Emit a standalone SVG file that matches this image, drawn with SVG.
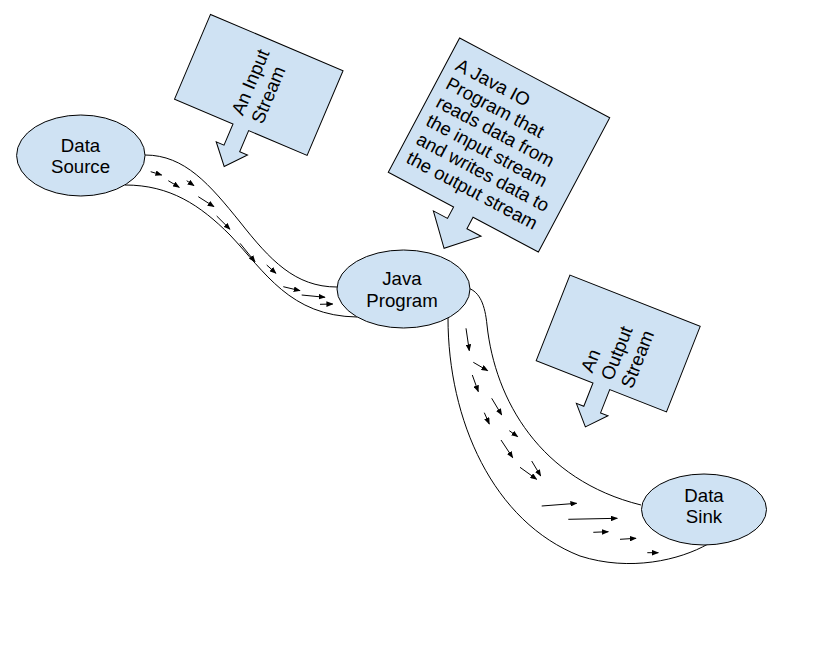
<svg xmlns="http://www.w3.org/2000/svg" width="819" height="648" viewBox="0 0 819 648">
  <defs>
    <style>
      .node { fill: #cfe2f3; stroke: #000; stroke-width: 1; }
      .stream { fill: none; stroke: #000; stroke-width: 1; }
      .flow { stroke: #000; stroke-width: 1; marker-end: url(#ah); }
      .label { font-family: "Liberation Sans", Arial, sans-serif; font-size: 18.67px; fill: #000; }
      .mid { text-anchor: middle; }
    </style>
    <marker id="ah" viewBox="0 0 10 8" refX="9" refY="4" markerWidth="7" markerHeight="5.6" orient="auto" markerUnits="userSpaceOnUse">
      <path d="M0,0 L10,4 L0,8 z" fill="#000"/>
    </marker>
  </defs>

  <rect width="819" height="648" fill="#fff"/>

  <!-- streams between the nodes, with the flowing data -->
  <g id="connectors">
    <g id="input-stream-pipe">
      <path class="stream" d="M145,155 C185,155 210,185 240,222 C270,260 295,287 337,287"/>
      <path class="stream" d="M125,185 C170,185 200,205 230,235 C265,272 290,316 357,317"/>
      <line class="flow" x1="150.7" y1="171.7" x2="161.7" y2="175"/>
      <line class="flow" x1="168.3" y1="180.7" x2="179.3" y2="187.3"/>
      <line class="flow" x1="186.7" y1="180.7" x2="194" y2="185.7"/>
      <line class="flow" x1="198.3" y1="196.7" x2="214" y2="206.7"/>
      <line class="flow" x1="216.7" y1="216" x2="230" y2="229.3"/>
      <line class="flow" x1="240" y1="243.3" x2="255" y2="261.7"/>
      <line class="flow" x1="266.7" y1="265" x2="276" y2="273.3"/>
      <line class="flow" x1="283.3" y1="286.7" x2="300" y2="290.7"/>
      <line class="flow" x1="301.7" y1="295" x2="325" y2="297.3"/>
      <line class="flow" x1="320" y1="304.3" x2="332.7" y2="304"/>
    </g>
    <g id="output-stream-pipe">
      <path class="stream" d="M468,288 C480,292 485,305 487,325 C495,400 540,480 641,505"/>
      <path class="stream" d="M448,318 C448,420 493,522 580,556 C630,572 680,560 708,544"/>
      <line class="flow" x1="466" y1="328.3" x2="469.3" y2="350.7"/>
      <line class="flow" x1="473.3" y1="362.3" x2="487.7" y2="370.7"/>
      <line class="flow" x1="472.3" y1="375" x2="478.3" y2="391.7"/>
      <line class="flow" x1="491.7" y1="398.3" x2="501.7" y2="415"/>
      <line class="flow" x1="484.3" y1="412.7" x2="489.3" y2="424"/>
      <line class="flow" x1="509.3" y1="430.7" x2="517.7" y2="436.7"/>
      <line class="flow" x1="501" y1="440" x2="512.7" y2="457.7"/>
      <line class="flow" x1="531.7" y1="461" x2="540.7" y2="476"/>
      <line class="flow" x1="520" y1="467.3" x2="536.7" y2="479.3"/>
      <line class="flow" x1="541.7" y1="506" x2="576.7" y2="503.3"/>
      <line class="flow" x1="568.3" y1="519.3" x2="617.3" y2="518.3"/>
      <line class="flow" x1="593.3" y1="532.3" x2="608.3" y2="531.7"/>
      <line class="flow" x1="620" y1="539.3" x2="636" y2="538.3"/>
      <line class="flow" x1="647.3" y1="552.7" x2="658.3" y2="552.7"/>
    </g>
  </g>

  <!-- end points -->
  <g id="data-source">
    <ellipse class="node" cx="80.8" cy="155.5" rx="64.2" ry="40.5"/>
    <text class="label mid" x="80.5" y="151.7">Data</text>
    <text class="label mid" x="80.5" y="173.3">Source</text>
  </g>

  <g id="java-program">
    <ellipse class="node" cx="403.5" cy="289" rx="66.5" ry="39"/>
    <text class="label mid" x="402" y="285">Java</text>
    <text class="label mid" x="402" y="306.5">Program</text>
  </g>

  <g id="data-sink">
    <ellipse class="node" cx="704" cy="509.5" rx="62.5" ry="35.5"/>
    <text class="label mid" x="704" y="501.7">Data</text>
    <text class="label mid" x="704" y="523.3">Sink</text>
  </g>

  <!-- arrow callouts -->
  <g id="input-stream-note" transform="translate(258.8,84.9) rotate(-67)">
    <path class="node" d="M-46,-72 H46 V72 H-46 V8.5 H-69 V17 L-88.6,0 L-69,-17 V-8.5 H-46 Z"/>
    <text class="label" x="-35.5" y="-2.5">An Input</text>
    <text class="label" x="-35.5" y="19">Stream</text>
  </g>

  <g id="java-io-note" transform="translate(499,145) rotate(28)">
    <path class="node" d="M-85,-76 H85 V76 H11 V89 H27 L0,117 L-27,89 H-11 V76 H-85 Z"/>
    <text class="label" x="-75" y="-46">A Java IO</text>
    <text class="label" x="-75" y="-25">Program that</text>
    <text class="label" x="-75" y="-4">reads data from</text>
    <text class="label" x="-75" y="17">the input stream</text>
    <text class="label" x="-75" y="38">and writes data to</text>
    <text class="label" x="-75" y="59">the output stream</text>
  </g>

  <g id="output-stream-note" transform="translate(618.2,343.5) rotate(-68.5)">
    <path class="node" d="M-46,-70 H46 V70 H-46 V9 H-71 V17 L-89.6,0 L-71,-17 V-9 H-46 Z"/>
    <text class="label" x="-37.5" y="-13">An</text>
    <text class="label" x="-37.5" y="8.5">Output</text>
    <text class="label" x="-37.5" y="30">Stream</text>
  </g>
</svg>
